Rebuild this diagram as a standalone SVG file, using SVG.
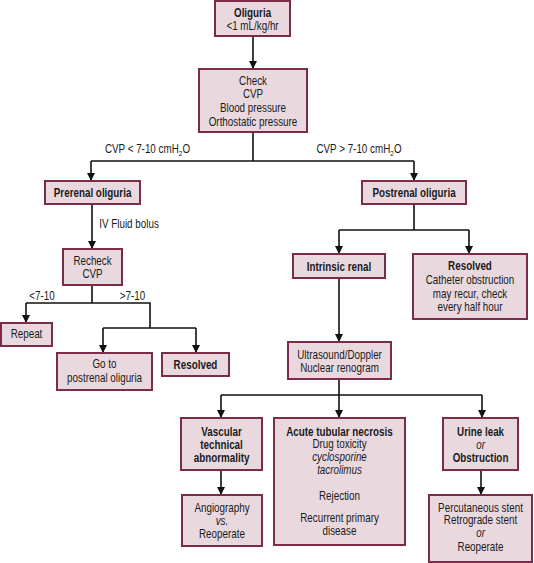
<svg xmlns="http://www.w3.org/2000/svg" width="534" height="563" viewBox="0 0 534 563">
<style>
.box{fill:#e9d9df;stroke:#7b2b4b;stroke-width:2}
.c{fill:none;stroke:#111;stroke-width:1.6}
text{font-family:"Liberation Sans",Arial,sans-serif;font-size:12px;fill:#1a1a1a;text-anchor:middle;transform-box:fill-box;transform-origin:center;transform:scaleX(0.82)}
.b{font-weight:bold}
.i{font-style:italic}
</style>
<defs>
<marker id="ah" markerUnits="userSpaceOnUse" markerWidth="8" markerHeight="8" refX="8" refY="4" orient="auto">
<path d="M0,0 L8,4 L0,8 z" fill="#111"/>
</marker>
</defs>
<rect width="534" height="563" fill="#fff"/>
<g id="connectors">
<path class="c" d="M253,36 V69" marker-end="url(#ah)"/>
<path class="c" d="M253,132 V161 M91,161 H414"/>
<path class="c" d="M91,161 V181" marker-end="url(#ah)"/>
<path class="c" d="M414,161 V181" marker-end="url(#ah)"/>
<path class="c" d="M92,204 V249" marker-end="url(#ah)"/>
<path class="c" d="M92,285 V303 M26,303 H150 V328 M103,328 H196"/>
<path class="c" d="M26,303 V323" marker-end="url(#ah)"/>
<path class="c" d="M103,328 V353" marker-end="url(#ah)"/>
<path class="c" d="M196,328 V353" marker-end="url(#ah)"/>
<path class="c" d="M414,204 V230 M339,230 H469"/>
<path class="c" d="M339,230 V254" marker-end="url(#ah)"/>
<path class="c" d="M469,230 V254" marker-end="url(#ah)"/>
<path class="c" d="M339,278 V342" marker-end="url(#ah)"/>
<path class="c" d="M339,379 V395 M221,395 H482"/>
<path class="c" d="M221,395 V418" marker-end="url(#ah)"/>
<path class="c" d="M339,395 V418" marker-end="url(#ah)"/>
<path class="c" d="M482,395 V418" marker-end="url(#ah)"/>
<path class="c" d="M221,470 V495" marker-end="url(#ah)"/>
<path class="c" d="M481,470 V495" marker-end="url(#ah)"/>
<text x="147.5" y="153">CVP &lt; 7-10 cmH<tspan font-size="8" dy="3">2</tspan><tspan dy="-3">O</tspan></text>
<text x="359" y="153">CVP &gt; 7-10 cmH<tspan font-size="8" dy="3">2</tspan><tspan dy="-3">O</tspan></text>
<text x="129" y="228">IV Fluid bolus</text>
<text x="42" y="300">&lt;7-10</text>
<text x="132.5" y="300">&gt;7-10</text>
</g>
<g id="oliguria">
<rect class="box" x="215" y="1" width="75" height="35"/>
<text class="b" x="252.5" y="17">Oliguria</text>
<text x="252.5" y="30">&lt;1 mL/kg/hr</text>
</g>
<g id="check">
<rect class="box" x="199" y="69" width="108" height="63"/>
<text x="253" y="85">Check</text>
<text x="253" y="98">CVP</text>
<text x="253" y="112">Blood pressure</text>
<text x="253" y="126">Orthostatic pressure</text>
</g>
<g id="prerenal">
<rect class="box" x="45" y="181" width="95" height="23"/>
<text class="b" x="92.5" y="197">Prerenal oliguria</text>
</g>
<g id="postrenal">
<rect class="box" x="362" y="181" width="104" height="23"/>
<text class="b" x="414" y="197">Postrenal oliguria</text>
</g>
<g id="recheck">
<rect class="box" x="63" y="249" width="59" height="36"/>
<text x="92.5" y="265">Recheck</text>
<text x="92.5" y="278">CVP</text>
</g>
<g id="repeat">
<rect class="box" x="1" y="323" width="51" height="23"/>
<text x="26.5" y="338">Repeat</text>
</g>
<g id="goto">
<rect class="box" x="57" y="353" width="95" height="37"/>
<text x="104.5" y="368">Go to</text>
<text x="104.5" y="382">postrenal oliguria</text>
</g>
<g id="resolved-left">
<rect class="box" x="162" y="353" width="67" height="23"/>
<text class="b" x="195.5" y="369">Resolved</text>
</g>
<g id="intrinsic">
<rect class="box" x="293" y="254" width="92" height="24"/>
<text class="b" x="339" y="271">Intrinsic renal</text>
</g>
<g id="resolved-right">
<rect class="box" x="413" y="254" width="114" height="65"/>
<text class="b" x="470" y="270">Resolved</text>
<text x="470" y="284">Catheter obstruction</text>
<text x="470" y="298">may recur, check</text>
<text x="470" y="311">every half hour</text>
</g>
<g id="ultrasound">
<rect class="box" x="288" y="342" width="103" height="37"/>
<text x="339.5" y="359">Ultrasound/Doppler</text>
<text x="339.5" y="372">Nuclear renogram</text>
</g>
<g id="vascular">
<rect class="box" x="181" y="418" width="81" height="52"/>
<text class="b" x="221.5" y="436">Vascular</text>
<text class="b" x="221.5" y="449">technical</text>
<text class="b" x="221.5" y="462">abnormality</text>
</g>
<g id="atn">
<rect class="box" x="274" y="418" width="131" height="127"/>
<text class="b" x="339.5" y="436">Acute tubular necrosis</text>
<text x="339.5" y="448">Drug toxicity</text>
<text class="i" x="339.5" y="461">cyclosporine</text>
<text class="i" x="339.5" y="474">tacrolimus</text>
<text x="339.5" y="500">Rejection</text>
<text x="339.5" y="522">Recurrent primary</text>
<text x="339.5" y="535">disease</text>
</g>
<g id="urine">
<rect class="box" x="443" y="418" width="75" height="52"/>
<text class="b" x="480.5" y="436">Urine leak</text>
<text class="i" x="480.5" y="449">or</text>
<text class="b" x="480.5" y="462">Obstruction</text>
</g>
<g id="angiography">
<rect class="box" x="182" y="495" width="80" height="51"/>
<text x="222" y="512">Angiography</text>
<text class="i" x="222" y="525">vs.</text>
<text x="222" y="538">Reoperate</text>
</g>
<g id="percutaneous">
<rect class="box" x="429" y="495" width="103" height="67"/>
<text x="480.5" y="512">Percutaneous stent</text>
<text x="480.5" y="524">Retrograde stent</text>
<text class="i" x="480.5" y="537">or</text>
<text x="480.5" y="551">Reoperate</text>
</g>
</svg>
